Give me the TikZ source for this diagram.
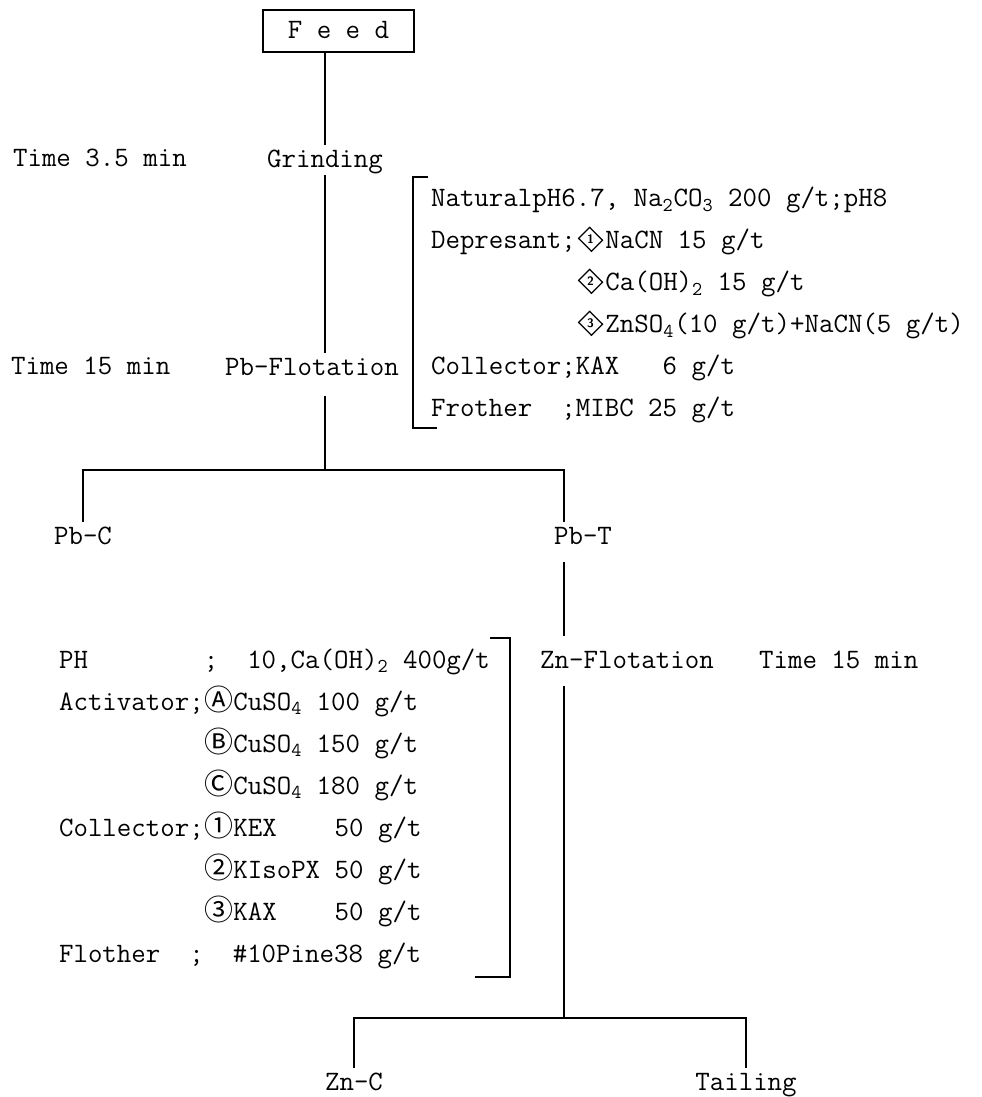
\documentclass[tikz,border=0pt]{standalone}
\usepackage{fontspec}
\newfontfamily\cjk{Noto Sans CJK JP}
\usepackage{tikz}

\newcommand{\circd}[1]{\makebox[1.05em][c]{\cjk\fontsize{16.5}{19}\selectfont #1}}
\newcommand{\dnum}[1]{\makebox[1.05em][c]{\raisebox{-0.08em}{\rotatebox{45}{\setlength\fboxsep{0pt}\setlength\fboxrule{0.7pt}\framebox[0.6em]{\rule{0pt}{0.6em}}}}}\kern-1.05em\makebox[1.05em][c]{\raisebox{0.2em}{\fontsize{7}{7}\sffamily\bfseries #1}}}
\newcommand{\sub}[1]{\textsubscript{#1}}

\begin{document}
\begin{tikzpicture}[x=0.02cm,y=-0.02cm,line width=1.2pt,
    txt/.style={inner sep=0pt,anchor=base west,font=\ttfamily\fontsize{16}{19}\selectfont},
    stage/.style={inner sep=0pt,text height=12pt,text depth=4pt,font=\ttfamily\fontsize{16}{19}\selectfont},
    brk/.style={line width=0.9pt}]
    \useasboundingbox (0,0) rectangle (981,1097);

    %% Stages
    \node[stage,draw,line width=0.9pt,minimum width=3.02cm,minimum height=0.84cm] (feed) at (338.5,31) {F e e d};
    \node[stage] (grind)  at (325,160)  {Grinding};
    \node[stage] (pbflot) at (312,368)  {Pb-Flotation};
    \node[stage] (pbc)    at (83,537)   {Pb-C};
    \node[stage] (pbt)    at (583,537)  {Pb-T};
    \node[stage] (znflot) at (627,661)  {Zn-Flotation};
    \node[stage] (znc)    at (354,1083) {Zn-C};
    \node[stage] (tail)   at (746,1083) {Tailing};

    %% Times
    \node[txt] (t1) at (12,167)  {Time 3.5 min};
    \node[txt] (t2) at (10,375)  {Time 15 min};
    \node[txt] (t3) at (758,668) {Time 15 min};

    %% Pb-flotation reagents
    \node[txt] (r1) at (430,207) {NaturalpH6.7, Na\sub{2}CO\sub{3} 200 g/t;pH8};
    \node[txt] (r2) at (430,249) {Depresant;\dnum{1}NaCN 15 g/t};
    \node[txt] (r3) at (430,291) {~~~~~~~~~~\dnum{2}Ca(OH)\sub{2} 15 g/t};
    \node[txt] (r4) at (430,333) {~~~~~~~~~~\dnum{3}ZnSO\sub{4}(10 g/t)+NaCN(5 g/t)};
    \node[txt] (r5) at (430,375) {Collector;KAX~~~6 g/t};
    \node[txt] (r6) at (430,417) {Frother~~;MIBC 25 g/t};
    \draw[brk] (428,177) -- (413,177) -- (413,428) -- (437,428);

    %% Zn-flotation reagents
    \node[txt] (s1) at (58,668) {PH~~~~~~~~;~~10,Ca(OH)\sub{2} 400g/t};
    \node[txt] (s2) at (58,710) {Activator;\circd{Ⓐ}CuSO\sub{4} 100 g/t};
    \node[txt] (s3) at (58,752) {~~~~~~~~~~\circd{Ⓑ}CuSO\sub{4} 150 g/t};
    \node[txt] (s4) at (58,794) {~~~~~~~~~~\circd{Ⓒ}CuSO\sub{4} 180 g/t};
    \node[txt] (s5) at (58,836) {Collector;\circd{①}KEX~~~~50 g/t};
    \node[txt] (s6) at (58,878) {~~~~~~~~~~\circd{②}KIsoPX 50 g/t};
    \node[txt] (s7) at (58,920) {~~~~~~~~~~\circd{③}KAX~~~~50 g/t};
    \node[txt] (s8) at (58,962) {Flother~~;~~\#10Pine38 g/t};
    \draw[brk] (490,638) -- (510,638) -- (510,977) -- (475,977);

    %% Flow lines
    \coordinate (pbsplit) at (325,470);
    \coordinate (znsplit) at (564,1018);
    \draw (feed.south -| grind) -- (grind);
    \draw (grind) -- (grind |- pbflot.north);
    \draw[shorten <=0.25cm] (grind |- pbflot.south) -- (pbsplit);
    \draw (pbc) |- (pbsplit) -| (znsplit |- pbt.north);
    \draw[shorten <=0.2cm,shorten >=0.2cm] (znsplit |- pbt.south) -- (znsplit |- znflot.north);
    \draw[shorten <=0.2cm] (znsplit |- znflot.south) -- (znsplit);
    \draw (znc) |- (znsplit) -| (tail);

\end{tikzpicture}
\end{document}
